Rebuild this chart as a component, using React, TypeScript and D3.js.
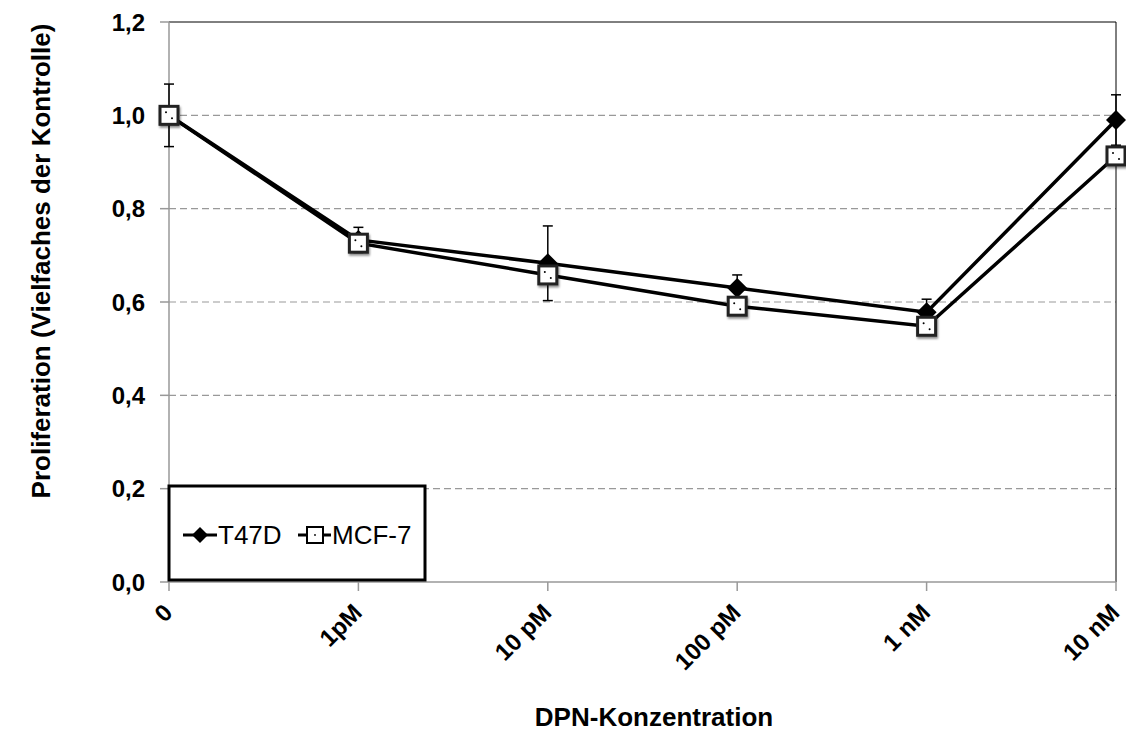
import * as React from "react";
import * as d3 from "d3";

const categories = ["0", "1pM", "10 pM", "100 pM", "1 nM", "10 nM"];
const t47d = [1.0, 0.733, 0.683, 0.63, 0.578, 0.99];
const t47dErr = [0.067, 0.027, 0.08, 0.028, 0.028, 0.054];
const mcf7 = [1.0, 0.726, 0.658, 0.591, 0.548, 0.913];
const yTicks = [0, 0.2, 0.4, 0.6, 0.8, 1.0, 1.2];

export default function App() {
  const width = 1126;
  const height = 731;
  const left = 169;
  const right = 1116;
  const top = 22;
  const bottom = 582;

  const x = d3.scalePoint().domain(categories).range([left, right]).padding(0);
  const y = d3.scaleLinear().domain([0, 1.2]).range([bottom, top]);

  const line = d3
    .line<number>()
    .x((d, i) => x(categories[i])!)
    .y((d) => y(d));

  const font = "Arial, 'Liberation Sans', sans-serif";
  const fmt = (v: number) => v.toFixed(1).replace(".", ",");

  return (
    <svg
      width={width}
      height={height}
      style={{ position: "absolute", left: 0, top: 0 }}
      fontFamily={font}
    >
      <defs>
        <filter id="shadow" x="-50%" y="-50%" width="200%" height="200%">
          <feDropShadow dx="1" dy="2" stdDeviation="1.2" floodColor="#000" floodOpacity="0.45" />
        </filter>
      </defs>
      <rect x={0} y={0} width={width} height={height} fill="#fff" />

      {/* gridlines */}
      {yTicks.slice(1, -1).map((t) => (
        <line
          key={t}
          x1={left}
          x2={right}
          y1={y(t)}
          y2={y(t)}
          stroke="#999"
          strokeWidth={1.2}
          strokeDasharray="7,4"
        />
      ))}
      {/* frame */}
      <line x1={left} x2={right} y1={top} y2={top} stroke="#000" strokeWidth={1} />
      <line x1={right} x2={right} y1={top} y2={bottom} stroke="#000" strokeWidth={1} />
      <line x1={left} x2={left} y1={top} y2={bottom} stroke="#999" strokeWidth={1.5} />
      <line x1={left} x2={right} y1={bottom} y2={bottom} stroke="#999" strokeWidth={1.5} />

      {/* y ticks */}
      {yTicks.map((t) => (
        <g key={t}>
          <line x1={left - 9} x2={left} y1={y(t)} y2={y(t)} stroke="#999" strokeWidth={1.5} />
          <text
            x={left - 24}
            y={y(t)}
            dy="0.36em"
            textAnchor="end"
            fontSize={24}
            fontWeight="bold"
          >
            {fmt(t)}
          </text>
        </g>
      ))}

      {/* x ticks */}
      {categories.map((c) => (
        <g key={c}>
          <line x1={x(c)} x2={x(c)} y1={bottom} y2={bottom + 9} stroke="#999" strokeWidth={1.5} />
          <text
            transform={`translate(${x(c)! + 5},${bottom + 32}) rotate(-45)`}
            textAnchor="end"
            fontSize={24}
            fontWeight="bold"
          >
            {c}
          </text>
        </g>
      ))}

      {/* error bars */}
      {t47d.map((v, i) => {
        const cx = x(categories[i])!;
        return (
          <g key={i} stroke="#000" strokeWidth={1.5}>
            <line x1={cx} x2={cx} y1={y(v - t47dErr[i])} y2={y(v + t47dErr[i])} />
            <line x1={cx - 5} x2={cx + 5} y1={y(v + t47dErr[i])} y2={y(v + t47dErr[i])} />
            <line x1={cx - 5} x2={cx + 5} y1={y(v - t47dErr[i])} y2={y(v - t47dErr[i])} />
          </g>
        );
      })}

      {/* lines */}
      <path d={line(t47d)!} fill="none" stroke="#000" strokeWidth={3.5} />
      <path d={line(mcf7)!} fill="none" stroke="#000" strokeWidth={3.5} />

      {/* markers */}
      {t47d.map((v, i) => (
        <Diamond key={i} cx={x(categories[i])!} cy={y(v)} r={10} />
      ))}
      {mcf7.map((v, i) => (
        <Square key={i} cx={x(categories[i])!} cy={y(v)} s={18} />
      ))}

      {/* legend */}
      <rect x={169} y={486} width={256} height={94} fill="#fff" stroke="#000" strokeWidth={3} />
      <line x1={183} x2={217} y1={535} y2={535} stroke="#000" strokeWidth={3} />
      <Diamond cx={200} cy={535} r={8} />
      <text x={218} y={535} dy="0.36em" fontSize={26}>
        T47D
      </text>
      <line x1={298} x2={331} y1={535} y2={535} stroke="#000" strokeWidth={3} />
      <rect x={307} y={527} width={16} height={16} fill="#fff" stroke="#000" strokeWidth={2} />
      <circle cx={315} cy={535} r={0.9} fill="#000" />
      <text x={332} y={535} dy="0.36em" fontSize={26}>
        MCF-7
      </text>

      {/* titles */}
      <text x={654} y={726} textAnchor="middle" fontSize={26} fontWeight="bold">
        DPN-Konzentration
      </text>
      <text
        transform={`translate(50,261) rotate(-90)`}
        textAnchor="middle"
        fontSize={26}
        fontWeight="bold"
      >
        Proliferation (Vielfaches der Kontrolle)
      </text>
    </svg>
  );
}

function Diamond({ cx, cy, r }: { cx: number; cy: number; r: number }) {
  return (
    <path
      d={`M${cx},${cy - r}L${cx + r},${cy}L${cx},${cy + r}L${cx - r},${cy}Z`}
      fill="#000"
    />
  );
}

function Square({ cx, cy, s }: { cx: number; cy: number; s: number }) {
  const h = s / 2;
  return (
    <g>
      <rect
        x={cx - h}
        y={cy - h}
        width={s}
        height={s}
        fill="#fff"
        stroke="#222"
        strokeWidth={3}
        filter="url(#shadow)"
      />
      <circle cx={cx - 3} cy={cy - 3} r={1} fill="#000" />
      <circle cx={cx + 3} cy={cy + 3} r={1} fill="#000" />
    </g>
  );
}
